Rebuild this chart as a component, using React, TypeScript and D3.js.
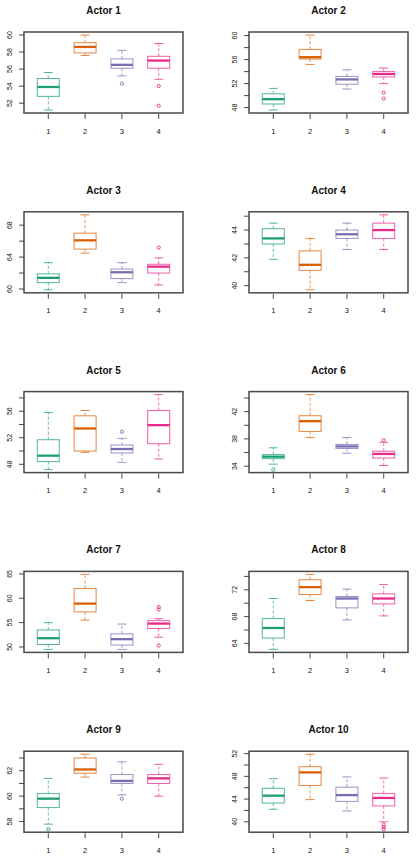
import React, { useEffect, useRef } from 'react';
import * as d3 from 'd3';

// five-number summaries per group: [lower whisker, q1, median, q3, upper whisker]
const groups = ['1', '2', '3', '4'];
const titles = ['Actor 1', 'Actor 2', 'Actor 3', 'Actor 4', 'Actor 5', 'Actor 6', 'Actor 7', 'Actor 8', 'Actor 9', 'Actor 10'];

const actor1 = [[51.2, 52.8, 53.9, 54.9, 55.6], [57.6, 57.9, 58.6, 59.1, 60.0], [55.2, 56.1, 56.5, 57.2, 58.2], [54.8, 56.1, 57.0, 57.5, 59.0]];
const actor2 = [[47.6, 48.6, 49.4, 50.3, 51.2], [55.2, 56.1, 56.4, 57.7, 60.1], [51.1, 51.9, 52.7, 53.2, 54.3], [52.0, 53.1, 53.6, 54.0, 54.6]];
const actor3 = [[59.9, 60.8, 61.4, 61.9, 63.3], [64.5, 65.0, 66.1, 67.0, 69.3], [60.8, 61.3, 62.1, 62.5, 63.3], [60.5, 62.0, 62.8, 63.1, 63.9]];
const actor4 = [[41.9, 43.0, 43.4, 44.1, 44.5], [39.7, 41.1, 41.5, 42.5, 43.4], [42.6, 43.4, 43.7, 44.0, 44.5], [42.6, 43.4, 44.0, 44.5, 45.1]];
const actor5 = [[47.2, 48.4, 49.3, 51.7, 55.8], [49.8, 50.0, 53.4, 55.3, 56.1], [48.3, 49.7, 50.3, 50.9, 51.9], [48.8, 51.1, 53.9, 56.1, 58.5]];
const actor6 = [[34.3, 35.1, 35.4, 35.7, 36.7], [38.2, 39.1, 40.6, 41.4, 44.5], [35.9, 36.6, 36.9, 37.2, 38.2], [34.1, 35.2, 35.8, 36.2, 37.5]];
const actor7 = [[49.5, 50.5, 51.8, 53.5, 55.0], [55.5, 57.2, 58.9, 62.0, 64.9], [49.5, 50.4, 51.6, 52.7, 54.7], [52.0, 53.8, 54.8, 55.4, 55.8]];
const actor8 = [[63.1, 64.8, 66.3, 67.7, 70.7], [70.4, 71.3, 72.4, 73.5, 74.3], [67.5, 69.3, 70.7, 71.0, 72.1], [68.1, 69.9, 70.7, 71.4, 72.8]];
const actor9 = [[57.8, 59.1, 59.8, 60.2, 61.4], [61.5, 61.8, 62.1, 63.0, 63.3], [60.1, 61.0, 61.2, 61.7, 62.7], [60.0, 61.0, 61.4, 61.7, 62.5]];
const actor10 = [[42.2, 43.3, 44.6, 45.9, 47.6], [43.9, 46.4, 48.7, 49.7, 51.9], [41.9, 43.6, 44.7, 46.1, 47.9], [40.0, 42.8, 44.2, 45.0, 47.7]];
const stats = [actor1, actor2, actor3, actor4, actor5, actor6, actor7, actor8, actor9, actor10];

// outliers per group
const outliers = [
  [[], [], [54.3], [54.0, 51.7]],
  [[], [], [], [50.5, 49.5]],
  [[], [], [], [65.2]],
  [[], [], [], []],
  [[], [], [52.9], []],
  [[33.5], [], [], [37.8]],
  [[], [], [], [58.2, 57.7, 50.3]],
  [[], [], [], []],
  [[57.4], [], [59.8], []],
  [[], [], [], [39.5, 39.1, 38.7]],
];

// y tick positions and which of them carry labels
const yTicks = [
  [52, 54, 56, 58, 60], [48, 50, 52, 54, 56, 58, 60], [60, 62, 64, 66, 68], [40, 41, 42, 43, 44, 45], [48, 50, 52, 54, 56, 58],
  [34, 36, 38, 40, 42, 44], [50, 55, 60, 65], [64, 66, 68, 70, 72, 74], [58, 59, 60, 61, 62, 63], [40, 42, 44, 46, 48, 50, 52],
];
const yLabels = [
  [52, 54, 56, 58, 60], [48, 52, 56, 60], [60, 64, 68], [40, 42, 44], [48, 52, 56],
  [34, 38, 42], [50, 55, 60, 65], [64, 68, 72], [58, 60, 62], [40, 44, 48, 52],
];

const W = 416;
const H = 863;

export default function App() {
  const ref = useRef<SVGSVGElement>(null);

  useEffect(() => {
    const svg = d3.select(ref.current);
    svg.selectAll('*').remove();
    const colors = d3.schemeDark2.slice(0, 4);
    const pw = 159;
    const ph = 81;
    const font = 'Liberation Sans, Arial, sans-serif';

    titles.forEach((title, i) => {
      const col = i % 2;
      const row = Math.floor(i / 2);
      const left = col === 0 ? 24 : 249;
      const top = 32 + row * 179.8;
      const g = svg.append('g').attr('transform', `translate(${left},${top})`);

      const all = stats[i].flat().concat(outliers[i].flat());
      const lo = d3.min(all) as number;
      const hi = d3.max(all) as number;
      const pad = (hi - lo) * 0.04;
      const y = d3.scaleLinear().domain([lo - pad, hi + pad]).range([ph, 0]);
      const x = d3.scaleLinear().domain([0.34, 4.66]).range([0, pw]);
      const bw = 22;
      const cw = 9;

      g.append('rect').attr('width', pw).attr('height', ph).attr('fill', 'white');

      stats[i].forEach((s, j) => {
        const c = colors[j];
        const cx = x(j + 1);
        const [wl, q1, md, q3, wh] = s;
        const bg = g.append('g');
        // whiskers
        bg.append('line').attr('x1', cx).attr('x2', cx).attr('y1', y(q3)).attr('y2', y(wh))
          .attr('stroke', c).attr('stroke-opacity', 0.65).attr('stroke-dasharray', '3,2');
        bg.append('line').attr('x1', cx).attr('x2', cx).attr('y1', y(q1)).attr('y2', y(wl))
          .attr('stroke', c).attr('stroke-opacity', 0.65).attr('stroke-dasharray', '3,2');
        [wl, wh].forEach(v => {
          bg.append('line').attr('x1', cx - cw / 2).attr('x2', cx + cw / 2).attr('y1', y(v)).attr('y2', y(v))
            .attr('stroke', c).attr('stroke-opacity', 0.75);
        });
        bg.append('rect').attr('x', cx - bw / 2).attr('width', bw)
          .attr('y', y(q3)).attr('height', y(q1) - y(q3))
          .attr('fill', 'white').attr('stroke', c).attr('stroke-opacity', 0.75);
        bg.append('line').attr('x1', cx - bw / 2).attr('x2', cx + bw / 2).attr('y1', y(md)).attr('y2', y(md))
          .attr('stroke', c).attr('stroke-width', 2.3);
        outliers[i][j].forEach(v => {
          bg.append('circle').attr('cx', cx).attr('cy', y(v)).attr('r', 1.6)
            .attr('fill', 'none').attr('stroke', c).attr('stroke-width', 0.9);
        });
      });

      g.append('rect').attr('width', pw).attr('height', ph)
        .attr('fill', 'none').attr('stroke', '#4a4a4a').attr('stroke-width', 1.5);

      // y axis
      yTicks[i].forEach(t => {
        g.append('line').attr('x1', -5).attr('x2', 0).attr('y1', y(t)).attr('y2', y(t))
          .attr('stroke', '#333').attr('stroke-width', 0.9);
      });
      yLabels[i].forEach(t => {
        g.append('text').attr('transform', `translate(-12.5,${y(t)}) rotate(-90)`)
          .attr('text-anchor', 'middle').attr('font-size', 7)
          .attr('font-family', font).attr('fill', '#111')
          .text(t);
      });

      // x axis
      groups.forEach((lab, j) => {
        const cx = x(j + 1);
        g.append('line').attr('x1', cx).attr('x2', cx).attr('y1', ph + 1).attr('y2', ph + 6)
          .attr('stroke', '#333').attr('stroke-width', 0.9);
        g.append('text').attr('x', cx).attr('y', ph + 20.5).attr('text-anchor', 'middle')
          .attr('font-size', 7.5).attr('font-family', font).attr('fill', '#111')
          .text(lab);
      });

      g.append('text').attr('x', pw / 2).attr('y', -18).attr('text-anchor', 'middle')
        .attr('font-size', 10).attr('font-weight', 'bold')
        .attr('font-family', font).attr('fill', '#111')
        .text(title);
    });
  }, []);

  return (
    <div style={{ position: 'absolute', left: 0, top: 0, background: 'white' }}>
      <svg ref={ref} width={W} height={H}></svg>
    </div>
  );
}
